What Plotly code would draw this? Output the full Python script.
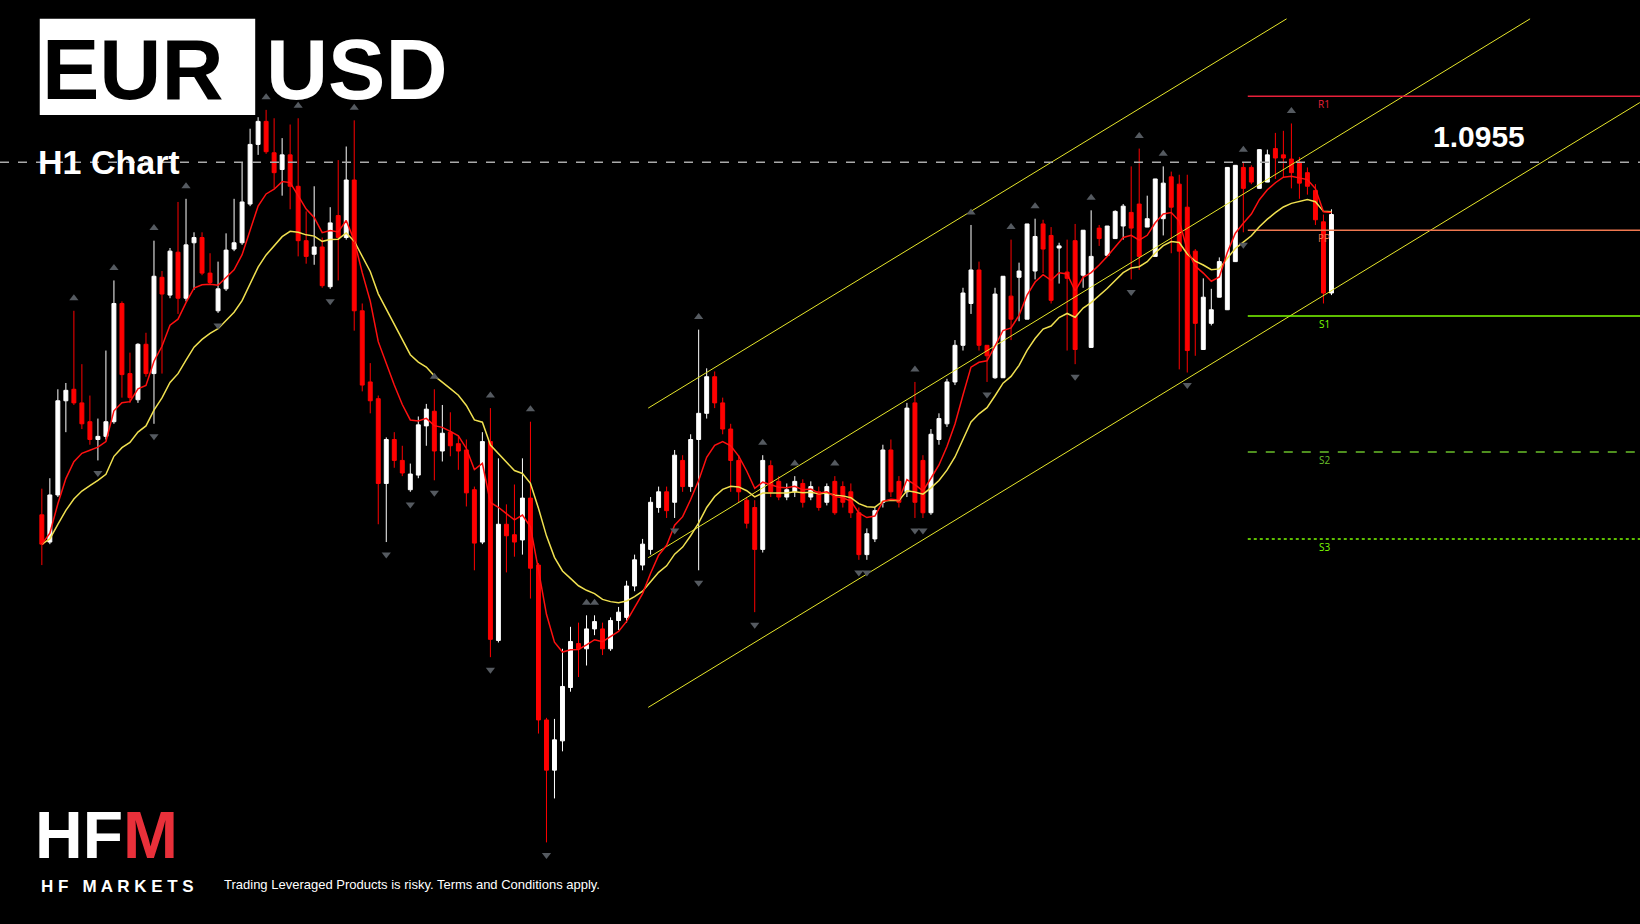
import numpy as np
import pandas as pd
import plotly.graph_objects as go

# H1 candles, EUR/USD
opens = [1.09218, 1.09192, 1.09237, 1.09327, 1.09338, 1.09325, 1.09307, 1.09290, 1.09293, 1.09307,
         1.09420, 1.09353, 1.09328, 1.09381, 1.09353, 1.09445, 1.09428, 1.09469, 1.09425, 1.09478,
         1.09483, 1.09449, 1.09413, 1.09434, 1.09472, 1.09478, 1.09515, 1.09572, 1.09594, 1.09564,
         1.09548, 1.09562, 1.09532, 1.09480, 1.09467, 1.09474, 1.09436, 1.09504, 1.09483, 1.09538,
         1.09413, 1.09345, 1.09329, 1.09248, 1.09290, 1.09270, 1.09242, 1.09256, 1.09303, 1.09317,
         1.09279, 1.09297, 1.09286, 1.09280, 1.09242, 1.09192, 1.09288, 1.09098, 1.09209, 1.09199,
         1.09194, 1.09234, 1.09170, 1.09022, 1.08974, 1.09002, 1.09053, 1.09095, 1.09090, 1.09109,
         1.09109, 1.09090, 1.09117, 1.09120, 1.09150, 1.09170, 1.09185, 1.09225, 1.09240, 1.09230,
         1.09270, 1.09245, 1.09290, 1.09315, 1.09350, 1.09325, 1.09300, 1.09270, 1.09232, 1.09225,
         1.09185, 1.09265, 1.09250, 1.09235, 1.09240, 1.09248, 1.09235, 1.09240, 1.09230, 1.09250,
         1.09245, 1.09240, 1.09220, 1.09180, 1.09195, 1.09230, 1.09280, 1.09250, 1.09240, 1.09325,
         1.09270, 1.09220, 1.09290, 1.09305, 1.09345, 1.09380, 1.09420, 1.09452, 1.09380, 1.09349,
         1.09349, 1.09427, 1.09445, 1.09405, 1.09451, 1.09496, 1.09485, 1.09473, 1.09450, 1.09480,
         1.09447, 1.09378, 1.09492, 1.09466, 1.09482, 1.09494, 1.09507, 1.09515, 1.09493, 1.09465,
         1.09501, 1.09541, 1.09534, 1.09512, 1.09470, 1.09376, 1.09401, 1.09426, 1.09414, 1.09460,
         1.09550, 1.09550, 1.09530, 1.09536, 1.09568, 1.09562, 1.09558, 1.09555, 1.09545, 1.09528,
         1.09498, 1.09430]
highs = [1.09243, 1.09253, 1.09338, 1.09344, 1.09413, 1.09362, 1.09332, 1.09310, 1.09375, 1.09442,
         1.09422, 1.09373, 1.09382, 1.09392, 1.09480, 1.09451, 1.09473, 1.09517, 1.09520, 1.09488,
         1.09488, 1.09468, 1.09460, 1.09487, 1.09520, 1.09555, 1.09587, 1.09598, 1.09605, 1.09597,
         1.09578, 1.09591, 1.09597, 1.09508, 1.09532, 1.09483, 1.09512, 1.09557, 1.09570, 1.09595,
         1.09420, 1.09363, 1.09332, 1.09292, 1.09297, 1.09284, 1.09267, 1.09312, 1.09324, 1.09338,
         1.09323, 1.09316, 1.09294, 1.09290, 1.09245, 1.09297, 1.09320, 1.09272, 1.09228, 1.09247,
         1.09272, 1.09307, 1.09172, 1.09024, 1.09023, 1.09090, 1.09111, 1.09115, 1.09122, 1.09122,
         1.09115, 1.09120, 1.09130, 1.09155, 1.09180, 1.09195, 1.09235, 1.09245, 1.09245, 1.09280,
         1.09275, 1.09295, 1.09395, 1.09358, 1.09355, 1.09330, 1.09305, 1.09275, 1.09235, 1.09232,
         1.09275, 1.09270, 1.09255, 1.09248, 1.09255, 1.09252, 1.09250, 1.09245, 1.09248, 1.09255,
         1.09250, 1.09248, 1.09225, 1.09205, 1.09225, 1.09285, 1.09290, 1.09255, 1.09325, 1.09345,
         1.09275, 1.09300, 1.09315, 1.09348, 1.09385, 1.09435, 1.09495, 1.09460, 1.09380, 1.09435,
         1.09435, 1.09481, 1.09459, 1.09455, 1.09501, 1.09500, 1.09493, 1.09478, 1.09481, 1.09496,
         1.09452, 1.09509, 1.09495, 1.09482, 1.09509, 1.09515, 1.09551, 1.09568, 1.09523, 1.09525,
         1.09551, 1.09546, 1.09543, 1.09543, 1.09472, 1.09444, 1.09434, 1.09437, 1.09464, 1.09552,
         1.09555, 1.09552, 1.09552, 1.09567, 1.09583, 1.09585, 1.09592, 1.09560, 1.09550, 1.09534,
         1.09505, 1.09510]
lows = [1.09170, 1.09190, 1.09235, 1.09297, 1.09323, 1.09300, 1.09285, 1.09270, 1.09290, 1.09305,
        1.09330, 1.09325, 1.09325, 1.09350, 1.09305, 1.09353, 1.09425, 1.09410, 1.09422, 1.09433,
        1.09447, 1.09438, 1.09411, 1.09432, 1.09470, 1.09476, 1.09513, 1.09562, 1.09563, 1.09530,
        1.09523, 1.09510, 1.09465, 1.09458, 1.09457, 1.09435, 1.09434, 1.09442, 1.09481, 1.09394,
        1.09336, 1.09315, 1.09209, 1.09192, 1.09263, 1.09255, 1.09240, 1.09253, 1.09284, 1.09251,
        1.09269, 1.09274, 1.09261, 1.09226, 1.09165, 1.09190, 1.09082, 1.09096, 1.09163, 1.09178,
        1.09180, 1.09138, 1.09009, 1.08905, 1.08947, 1.08992, 1.09049, 1.09063, 1.09074, 1.09103,
        1.09084, 1.09088, 1.09108, 1.09115, 1.09145, 1.09165, 1.09180, 1.09220, 1.09215, 1.09215,
        1.09240, 1.09240, 1.09165, 1.09310, 1.09320, 1.09295, 1.09240, 1.09230, 1.09205, 1.09125,
        1.09182, 1.09235, 1.09232, 1.09232, 1.09235, 1.09225, 1.09232, 1.09222, 1.09227, 1.09218,
        1.09225, 1.09215, 1.09175, 1.09175, 1.09192, 1.09225, 1.09235, 1.09225, 1.09235, 1.09215,
        1.09215, 1.09218, 1.09285, 1.09302, 1.09342, 1.09375, 1.09410, 1.09375, 1.09345, 1.09348,
        1.09425, 1.09385, 1.09403, 1.09449, 1.09443, 1.09449, 1.09420, 1.09439, 1.09375, 1.09362,
        1.09435, 1.09460, 1.09475, 1.09475, 1.09494, 1.09481, 1.09443, 1.09452, 1.09498, 1.09485,
        1.09485, 1.09468, 1.09357, 1.09354, 1.09370, 1.09381, 1.09399, 1.09464, 1.09512, 1.09520,
        1.09488, 1.09534, 1.09544, 1.09539, 1.09539, 1.09540, 1.09530, 1.09520, 1.09524, 1.09495,
        1.09420, 1.09428]
closes = [1.09190, 1.09237, 1.09327, 1.09337, 1.09325, 1.09305, 1.09290, 1.09293, 1.09307, 1.09420,
          1.09352, 1.09330, 1.09381, 1.09353, 1.09446, 1.09429, 1.09470, 1.09425, 1.09476, 1.09483,
          1.09449, 1.09440, 1.09434, 1.09471, 1.09478, 1.09517, 1.09572, 1.09594, 1.09565, 1.09545,
          1.09562, 1.09532, 1.09480, 1.09465, 1.09474, 1.09437, 1.09497, 1.09483, 1.09538, 1.09413,
          1.09342, 1.09327, 1.09248, 1.09290, 1.09270, 1.09258, 1.09257, 1.09304, 1.09319, 1.09279,
          1.09296, 1.09284, 1.09279, 1.09239, 1.09191, 1.09288, 1.09099, 1.09209, 1.09198, 1.09192,
          1.09234, 1.09167, 1.09022, 1.08974, 1.09003, 1.09054, 1.09097, 1.09090, 1.09109, 1.09116,
          1.09090, 1.09117, 1.09125, 1.09150, 1.09175, 1.09190, 1.09230, 1.09240, 1.09222, 1.09275,
          1.09245, 1.09290, 1.09315, 1.09350, 1.09325, 1.09300, 1.09270, 1.09240, 1.09210, 1.09185,
          1.09270, 1.09240, 1.09235, 1.09242, 1.09250, 1.09230, 1.09245, 1.09225, 1.09245, 1.09220,
          1.09230, 1.09220, 1.09180, 1.09200, 1.09222, 1.09280, 1.09240, 1.09230, 1.09320, 1.09230,
          1.09220, 1.09295, 1.09310, 1.09345, 1.09380, 1.09430, 1.09452, 1.09380, 1.09370, 1.09429,
          1.09446, 1.09405, 1.09451, 1.09496, 1.09484, 1.09472, 1.09423, 1.09475, 1.09444, 1.09376,
          1.09490, 1.09465, 1.09482, 1.09494, 1.09508, 1.09513, 1.09492, 1.09465, 1.09501, 1.09539,
          1.09535, 1.09512, 1.09470, 1.09375, 1.09401, 1.09426, 1.09414, 1.09460, 1.09550, 1.09552,
          1.09530, 1.09536, 1.09567, 1.09562, 1.09559, 1.09559, 1.09545, 1.09535, 1.09532, 1.09500,
          1.09430, 1.09505]

# pivot levels (right-hand panel)
pivot_names = ["R1", "PP", "S1", "S2", "S3"]
pivot_prices = [1.09618, 1.09490, 1.09408, 1.09278, 1.09195]
pivot_colors = ["#e8203a", "#f07850", "#7cfc00", "#6abf2a", "#7cfc00"]
pivot_dash = ["solid", "solid", "solid", "dash", "dot"]
last_price = 1.09555

# regression channel (bar index, price)
channel_x = [[75.7, 155.4], [75.7, 185.8], [75.7, 199.5]]
channel_y = [[1.09320, 1.09692], [1.09177, 1.09692], [1.09034, 1.09612]]

n = len(closes)
idx = np.arange(n)
W, H = 1568, 883
step = (1273 - 40) / (n - 1)
x0 = -40 / step
x1 = x0 + W / step
ytop = 1.0971
ybot = ytop - H / 100000

fig = go.Figure()

# channel lines
for cx, cy in zip(channel_x, channel_y):
    fig.add_trace(go.Scatter(x=cx, y=cy, mode="lines", line=dict(color="#e6e62a", width=1), hoverinfo="skip"))

# pivots
piv_start = (1193 - 40) / step
for name, p, c, d in zip(pivot_names, pivot_prices, pivot_colors, pivot_dash):
    fig.add_trace(go.Scatter(x=[piv_start, x1], y=[p, p], mode="lines",
                             line=dict(color=c, width=1.5, dash=d), hoverinfo="skip"))
    fig.add_annotation(x=(1266 - 40) / step, y=p, text=name, showarrow=False, yshift=-8,
                       font=dict(size=10, color=c))

fig.add_trace(go.Scatter(x=[x0, x1], y=[last_price, last_price], mode="lines",
                         line=dict(color="#aaaaaa", width=1.5, dash="dash"), hoverinfo="skip"))

fig.add_trace(go.Candlestick(
    x=idx, open=opens, high=highs, low=lows, close=closes,
    increasing=dict(line=dict(color="#ffffff", width=1), fillcolor="#ffffff"),
    decreasing=dict(line=dict(color="#ff0000", width=1), fillcolor="#ff0000"),
    whiskerwidth=0, showlegend=False,
))

cl = pd.Series(closes)
ema_fast = cl.ewm(span=8, adjust=False).mean()
ema_slow = cl.ewm(span=18, adjust=False).mean()
fig.add_trace(go.Scatter(x=idx, y=ema_slow, mode="lines", line=dict(color="#f0e050", width=1.5)))
fig.add_trace(go.Scatter(x=idx, y=ema_fast, mode="lines", line=dict(color="#ff1010", width=1.5)))

# fractal markers
hi = np.array(highs)
lo = np.array(lows)
up = [i for i in range(2, n - 2) if hi[i] == hi[i - 2:i + 3].max()]
dn = [i for i in range(2, n - 2) if lo[i] == lo[i - 2:i + 3].min()]
fig.add_trace(go.Scatter(x=up, y=hi[up] + 0.00012, mode="markers",
                         marker=dict(symbol="triangle-up", size=8, color="#555a60")))
fig.add_trace(go.Scatter(x=dn, y=lo[dn] - 0.00012, mode="markers",
                         marker=dict(symbol="triangle-down", size=8, color="#555a60")))

font = "Liberation Sans"


def label(x, y, text, size, color="white"):
    fig.add_annotation(x=x / W, y=1 - y / H, xref="paper", yref="paper", text=text,
                       xanchor="left", yanchor="middle", showarrow=False,
                       font=dict(size=size, color=color, family=font))


label(1368, 130, "<b>1.0955</b>", 30)

# header
fig.add_shape(type="rect", xref="paper", yref="paper", x0=38 / W, x1=244 / W, layer="below",
              y0=1 - 110 / H, y1=1 - 18 / H, fillcolor="white", line_width=0)
label(38, 66, "<b>EUR</b>", 86, "black")
label(252, 66, "<b>USD</b>", 86)
label(34, 155, "<b>H1 Chart</b>", 34)

# footer logo
label(32, 798, "<b>HF</b><b><span style='color:#e8303a'>M</span></b>", 66)
label(37, 847, "<b>H F   M A R K E T S</b>", 17)
label(212, 845, "Trading Leveraged Products is risky. Terms and Conditions apply.", 13)

fig.update_layout(
    width=1640, height=924, paper_bgcolor="black", plot_bgcolor="black",
    margin=dict(l=0, r=0, t=0, b=0), showlegend=False,
    xaxis=dict(range=[x0, x1], visible=False, rangeslider=dict(visible=False)),
    yaxis=dict(range=[ybot, ytop], visible=False),
)
fig.write_html("out.html", config={"displayModeBar": False},
               post_script="document.body.style.margin='0';document.body.style.background='black';")
